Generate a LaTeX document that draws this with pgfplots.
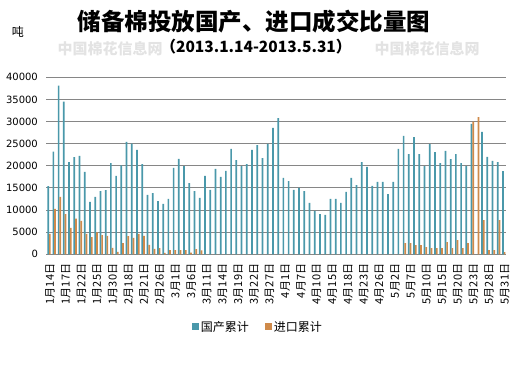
\documentclass[border=0pt]{standalone}
\usepackage{pgfplots}
\usepackage{pgfplotstable}
\pgfplotsset{compat=1.18}
\usepackage{fontspec}
\setmainfont{Liberation Sans}
\newfontfamily\cjk{Noto Sans CJK SC}
\newfontfamily\dv{DejaVu Sans}
\definecolor{cblue}{RGB}{74,152,170}
\definecolor{corange}{RGB}{207,138,74}
\definecolor{gridc}{RGB}{134,134,134}

\pgfplotstableread{
idx dom imp
0 15400 4600
1 23200 10250
2 38100 12950
3 34500 9100
4 20850 5950
5 21950 8050
6 22250 7550
7 18600 4600
8 11850 3900
9 12950 4950
10 14300 4350
11 14500 4150
12 20600 1450
13 17700 550
14 20100 2550
15 25400 4100
16 25000 3700
17 23600 4600
18 20400 4150
19 13450 2150
20 13850 1250
21 12000 1400
22 11400 300
23 12500 950
24 19550 950
25 21550 950
26 19950 950
27 16100 350
28 14300 1150
29 12750 900
30 17700 0
31 14550 0
32 19300 0
33 17500 0
34 18850 0
35 23800 0
36 21300 0
37 19950 0
38 20400 0
39 23600 0
40 24700 0
41 21750 0
42 24950 0
43 28550 0
44 30800 0
45 17250 0
46 16550 0
47 14550 0
48 15000 0
49 14300 0
50 11600 0
51 9800 0
52 9100 0
53 8900 0
54 12500 0
55 12500 0
56 11600 0
57 14100 0
58 17250 0
59 15650 0
60 20850 0
61 19750 0
62 15450 0
63 16350 0
64 16350 0
65 13600 0
66 16350 0
67 23800 0
68 26750 2500
69 22650 2500
70 26500 2100
71 22650 2100
72 19950 1600
73 24900 1400
74 23100 1400
75 20600 1400
76 23350 2750
77 21500 1400
78 22650 3200
79 20600 1400
80 19950 2500
81 29450 30000
82 0 31000
83 27650 7700
84 22000 950
85 21100 950
86 20850 7700
87 18800 500
}\data

\begin{document}
\begin{tikzpicture}[x=1pt,y=1pt]
\useasboundingbox (0,0) rectangle (528,369);
% watermarks
\node[text=gray!22, font=\cjk\bfseries\fontsize{15}{15}\selectfont] at (110,320) {中国棉花信息网};
\node[text=gray!22, font=\cjk\bfseries\fontsize{15}{15}\selectfont] at (427,320) {中国棉花信息网};
% titles
\node[font=\cjk\bfseries\fontsize{23.5}{24}\selectfont] at (254,347.5) {储备棉投放国产、进口成交比量图};
\node[font=\cjk\bfseries\fontsize{15.5}{16}\selectfont] at (256,322.5) {（2013.1.14-2013.5.31）};
\node[font=\cjk\fontsize{12}{12}\selectfont] at (18,337) {吨};
\begin{axis}[
  at={(46.4pt,114.7pt)}, anchor=south west,
  width=460pt, height=177pt, scale only axis,
  xmin=-0.5, xmax=87.5, ymin=0, ymax=40000,
  scaled y ticks=false,
  ybar=0pt, bar width=1.7pt,
  axis x line*=bottom, axis y line*=left,
  x axis line style={draw=gridc, line width=1pt, -},
  y axis line style={draw=none},
  major tick length=0pt,
  ymajorgrids, grid style={draw=gridc, line width=1pt},
  ytick={0,5000,10000,15000,20000,25000,30000,35000,40000},
  yticklabels={0,5000,10000,15000,20000,25000,30000,35000,40000},
  yticklabel style={font=\dv\fontsize{10}{10}\selectfont, xshift=-5pt},
  xtick={0,3,...,87},
  xticklabels={1月14日,1月17日,1月22日,1月25日,1月30日,2月18日,2月21日,2月26日,3月1日,3月6日,3月11日,3月14日,3月19日,3月22日,3月27日,4月1日,4月7日,4月10日,4月15日,4月18日,4月23日,4月26日,5月2日,5月7日,5月10日,5月15日,5月20日,5月23日,5月28日,5月31日},
  xticklabel style={rotate=90, anchor=east, font=\cjk\fontsize{11}{11}\selectfont, yshift=-1pt, xshift=-6pt},
  legend style={at={(0.46,-0.41)}, anchor=center, draw=none, fill=none,
    legend columns=2, font=\cjk\fontsize{12}{12}\selectfont,
    /tikz/every even column/.append style={column sep=14pt}},
  legend image code/.code={\fill[#1] (0pt,-3.5pt) rectangle (7pt,3.5pt);},
]
\addplot[fill=cblue, draw=none] table[x=idx, y=dom] {\data};
\addplot[fill=corange, draw=none] table[x=idx, y=imp] {\data};
\legend{国产累计,进口累计}
\end{axis}
\end{tikzpicture}
\end{document}
